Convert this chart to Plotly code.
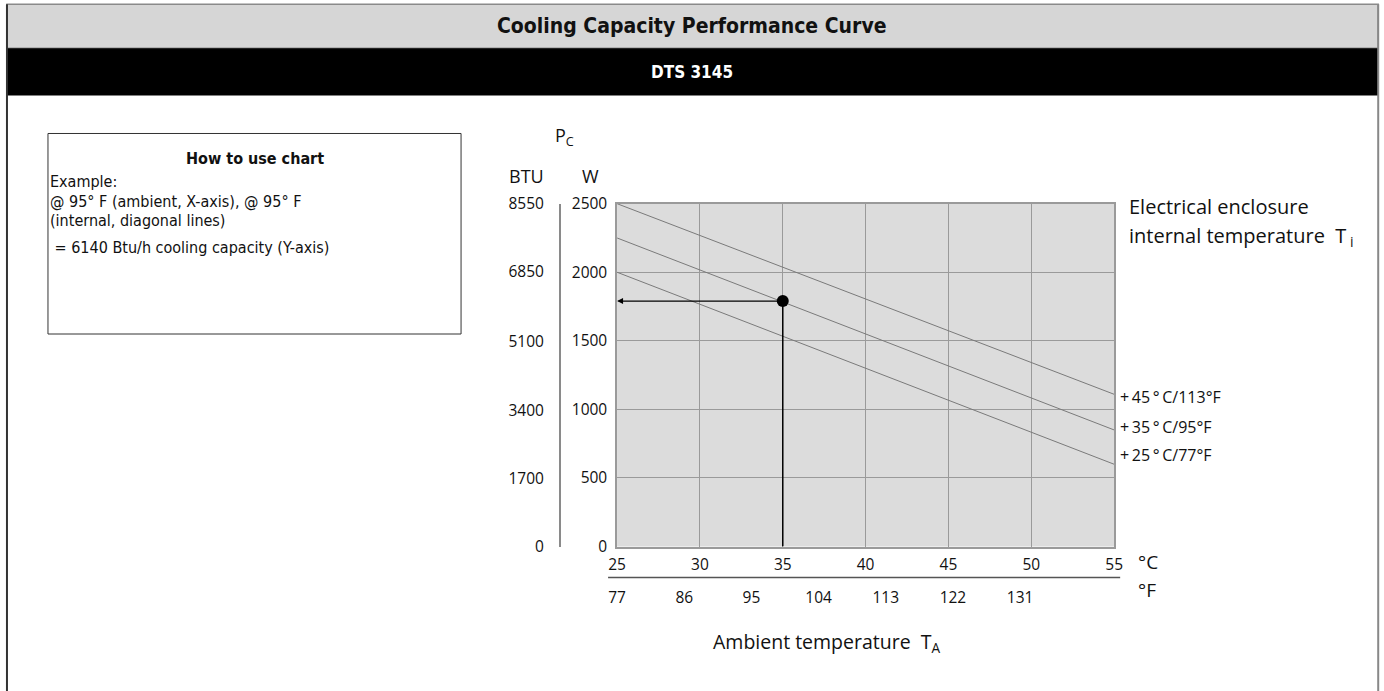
import plotly.graph_objects as go

# Screen mapping observed for this page: picture = C + S * (page px).
# The body gets a small negative margin (post_script) so the frame can reach the edges.
M = -10
CX, SX = 8.9, 0.987
CY, SY = 11.5, 0.9667
W, H = 1403, 713

# ---------------- data ----------------
ambient_c = [25, 55]
line_names = ["+\u200945\u2009°\u2009C/113°F", "+\u200935\u2009°\u2009C/95°F", "+\u200925\u2009°\u2009C/77°F"]
line_45 = [2500, 1110]
line_35 = [2250, 850]
line_25 = [2000, 600]
label_shift = [-3, 3, 9]

example_x = 35
example_w = 1790

c_ticks = [25, 30, 35, 40, 45, 50, 55]
f_ticks = [77, 86, 95, 104, 113, 122, 131]
w_ticks = [0, 500, 1000, 1500, 2000, 2500]
btu_ticks = [0, 1700, 3400, 5100, 6850, 8550]

TXT = "Open Sans, Noto Sans, sans-serif"
NARROW = "Liberation Sans Narrow, Arial Narrow, DejaVu Sans Condensed, Liberation Sans, sans-serif"


def px(x):
    return ((x - CX) / SX - M) / W


def py(y):
    return 1 - ((y - CY) / SY - M) / H


fig = go.Figure()

for ys, name in zip([line_45, line_35, line_25], line_names):
    fig.add_trace(go.Scatter(x=ambient_c, y=ys, mode="lines", name=name,
                             line=dict(color="#7a7a7a", width=1), hoverinfo="skip"))

fig.add_trace(go.Scatter(x=[example_x, example_x], y=[0, example_w], mode="lines",
                         line=dict(color="black", width=1.5), hoverinfo="skip"))
fig.add_trace(go.Scatter(x=[example_x], y=[example_w], mode="markers",
                         marker=dict(color="black", size=12), hoverinfo="skip"))
fig.add_trace(go.Scatter(x=[None], y=[None], xaxis="x2", yaxis="y2", hoverinfo="skip"))

fig.update_layout(
    width=W, height=H, margin=dict(l=0, r=0, t=0, b=0),
    paper_bgcolor="white", plot_bgcolor="#dcdcdc", showlegend=False,
    font=dict(family=TXT, size=16, color="#111"),
    xaxis=dict(domain=[px(617), px(1114)], range=[25, 55], tickvals=c_ticks,
               showgrid=True, gridcolor="#9a9a9a", gridwidth=1, zeroline=False,
               showline=True, linecolor="#9a9a9a", linewidth=1.5, mirror=True,
               ticks="", ticklabelstandoff=3, tickfont=dict(size=15.5, family=TXT)),
    yaxis=dict(domain=[py(545), py(203)], range=[0, 2500], tickvals=w_ticks,
               showgrid=True, gridcolor="#9a9a9a", gridwidth=1, zeroline=False,
               showline=True, linecolor="#9a9a9a", linewidth=1.5, mirror=True,
               ticks="", ticklabelstandoff=5, tickfont=dict(size=15.5, family=TXT)),
    xaxis2=dict(overlaying="x", anchor="free", position=py(576), side="bottom",
                range=[77, 143.6], tickvals=f_ticks, showgrid=False, zeroline=False,
                showline=False, ticks="", ticklabelstandoff=9,
                tickfont=dict(size=15.5, family=TXT)),
    yaxis2=dict(overlaying="y", anchor="free", position=px(560), side="left",
                range=[0, 8550], tickvals=btu_ticks, showgrid=False, zeroline=False,
                showline=True, linecolor="#8a8a8a", linewidth=2, ticks="",
                ticklabelstandoff=12, tickfont=dict(size=15.5, family=TXT)),
)

shapes = []
shapes.append(dict(type="rect", xref="paper", yref="paper", x0=px(7), x1=px(1378),
                   y0=py(48), y1=py(4), fillcolor="#d6d6d6", line=dict(color="#8a8a8a", width=1.5),
                   layer="below"))
shapes.append(dict(type="rect", xref="paper", yref="paper", x0=px(7), x1=px(1378),
                   y0=py(95), y1=py(48), fillcolor="black", line=dict(width=0), layer="below"))
shapes.append(dict(type="line", xref="paper", yref="paper", x0=px(7), x1=px(7),
                   y0=py(4), y1=0, line=dict(color="#333", width=2)))
shapes.append(dict(type="line", xref="paper", yref="paper", x0=px(1378), x1=px(1378),
                   y0=py(4), y1=0, line=dict(color="#888", width=2)))
shapes.append(dict(type="rect", xref="paper", yref="paper", x0=px(48), x1=px(461),
                   y0=py(333), y1=py(133), line=dict(color="#333", width=1)))
shapes.append(dict(type="line", xref="paper", yref="paper", x0=px(608), x1=px(1120),
                   y0=py(576), y1=py(576), line=dict(color="#555", width=1.5)))
fig.update_layout(shapes=shapes)

ann = []


def text(x, y, s, size=16, family=TXT, color="#111", xanchor="center", bold=False):
    if bold:
        s = "<b>" + s + "</b>"
    ann.append(dict(xref="paper", yref="paper", x=px(x), y=py(y), text=s, showarrow=False,
                    xanchor=xanchor, yanchor="middle", font=dict(size=size, family=family, color=color)))


text(692, 26, "Cooling Capacity Performance Curve", size=21, family=NARROW, bold=True)
text(692, 72, "DTS 3145", size=17, family=NARROW, color="white", bold=True)

text(255, 158, "How to use chart", size=16, family=NARROW, bold=True)
text(48, 181, "Example:", size=16, family=NARROW, xanchor="left")
text(48, 201, "@ 95° F (ambient, X-axis), @ 95° F", size=16, family=NARROW, xanchor="left")
text(48, 220, "(internal, diagonal lines)", size=16, family=NARROW, xanchor="left")
text(48, 247, " = 6140 Btu/h cooling capacity (Y-axis)", size=16, family=NARROW, xanchor="left")

text(564, 136, "P<sub>C</sub>", size=18)
text(526, 175, "BTU", size=18)
text(590, 175, "W", size=18)

text(1127, 206, "Electrical enclosure", size=20, xanchor="left")
text(1127, 236, "internal temperature  T<sub> i</sub>", size=20, xanchor="left")

text(1136, 560, "°C", size=19, xanchor="left")
text(1136, 588, "°F", size=19, xanchor="left")
text(711, 641, "Ambient temperature  T<sub>A</sub>", size=19.5, xanchor="left")

for ys, name, sh in zip([line_45, line_35, line_25], line_names, label_shift):
    ann.append(dict(xref="x", yref="y", x=ambient_c[-1], y=ys[-1], text=name, showarrow=False,
                    xanchor="left", yanchor="middle", xshift=4, yshift=sh,
                    font=dict(size=16, family=TXT, color="#111")))

ann.append(dict(xref="x", yref="y", axref="x", ayref="y", x=25, y=example_w,
                ax=example_x, ay=example_w, text="", showarrow=True,
                arrowhead=2, arrowsize=1, arrowwidth=1.2, arrowcolor="black"))

fig.update_layout(annotations=ann)

fig.write_html("out.html", config={"displayModeBar": False},
               post_script="document.body.style.margin='-10px 0 0 -10px';"
                           "document.body.style.overflow='hidden';")
